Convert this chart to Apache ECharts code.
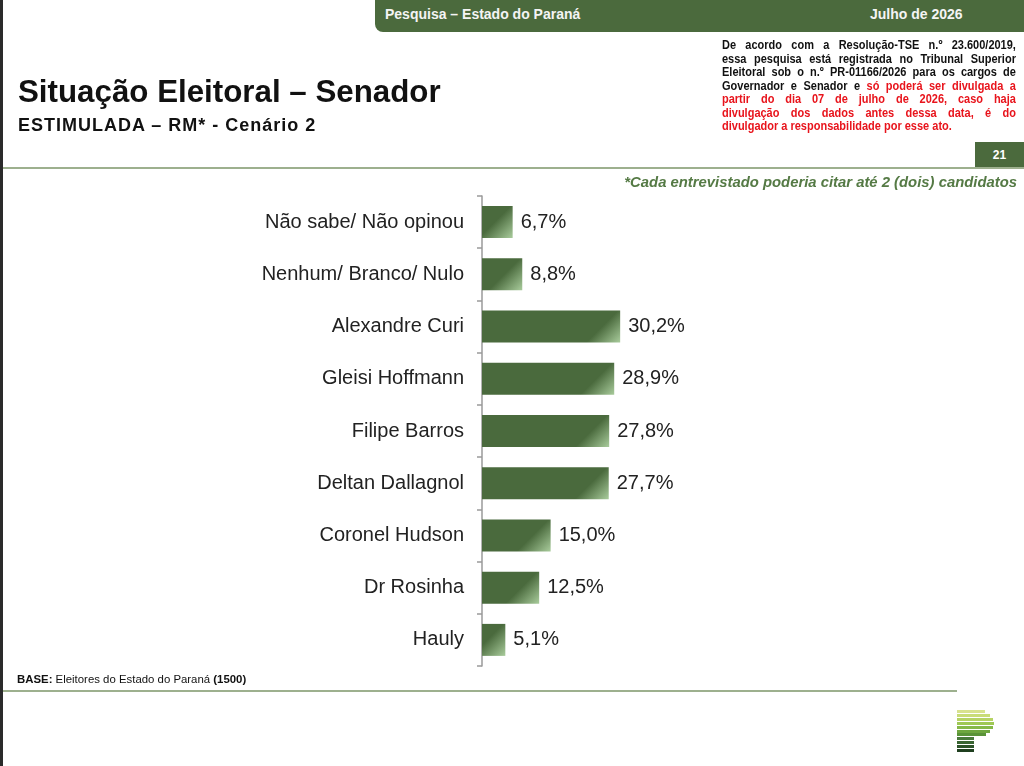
<!DOCTYPE html>
<html><head><meta charset="utf-8">
<script src="https://cdn.jsdelivr.net/npm/echarts@6/dist/echarts.min.js"></script>
<style>
html,body{margin:0;padding:0;background:#fff;}
body{width:1024px;height:766px;position:relative;overflow:hidden;font-family:"Liberation Sans",Arial,sans-serif;}
#chart{position:absolute;left:0;top:0;width:1024px;height:766px;}
.abs{position:absolute;}
#leftbar{left:0;top:0;width:3px;height:766px;background:#2a2a2a;}
#header{left:375px;top:0;width:649px;height:32px;background:#4b6a3d;border-bottom-left-radius:8px;color:#f4f4f4;font-weight:bold;font-size:14px;}
#header .l{position:absolute;left:10px;top:6px;}
#header .r{position:absolute;left:495px;top:6px;}
#disc{left:722px;top:39px;width:334px;transform:scaleX(0.88);transform-origin:0 0;font-weight:bold;font-size:12.5px;line-height:13.5px;color:#111;}
#disc div{text-align:justify;text-align-last:justify;white-space:nowrap;}
#disc div.last{text-align-last:left;}
#disc .red{color:#e8141c;}
#title{left:18px;top:74px;font-size:31.3px;font-weight:bold;color:#111;white-space:nowrap;}
#subtitle{left:18px;top:115px;font-size:18px;letter-spacing:1px;font-weight:bold;color:#111;white-space:nowrap;}
#pg{left:975px;top:142px;width:49px;height:26px;background:#4b6a3d;color:#fff;font-weight:bold;font-size:12px;text-align:center;line-height:26px;}
#hline{left:3px;top:167px;width:1021px;height:2px;background:#9db08e;}
#note{right:7px;top:174px;font-size:14.85px;font-weight:bold;font-style:italic;color:#557a45;white-space:nowrap;}
#base{left:17px;top:673px;font-size:11.4px;color:#111;white-space:nowrap;}
#bline{left:3px;top:690px;width:954px;height:2px;background:#9db08e;}
.st{position:absolute;left:957px;height:3px;}
</style></head>
<body>
<div id="chart"></div>
<div class="abs" id="leftbar"></div>
<div class="abs" id="header"><span class="l">Pesquisa – Estado do Paraná</span><span class="r">Julho de 2026</span></div>
<div class="abs" id="disc">
<div>De acordo com a Resolução-TSE n.º 23.600/2019,</div>
<div>essa pesquisa está registrada no Tribunal Superior</div>
<div>Eleitoral sob o n.º PR-01166/2026 para os cargos de</div>
<div>Governador e Senador e <span class="red">só poderá ser divulgada a</span></div>
<div class="red">partir do dia 07 de julho de 2026, caso haja</div>
<div class="red">divulgação dos dados antes dessa data, é do</div>
<div class="red last">divulgador a responsabilidade por esse ato.</div>
</div>
<div class="abs" id="title">Situação Eleitoral – Senador</div>
<div class="abs" id="subtitle">ESTIMULADA – RM* - Cenário 2</div>
<div class="abs" id="pg">21</div>
<div class="abs" id="hline"></div>
<div class="abs" id="note">*Cada entrevistado poderia citar até 2 (dois) candidatos</div>
<div class="abs" id="base"><b>BASE:</b> Eleitores do Estado do Paraná <b>(1500)</b></div>
<div class="abs" id="bline"></div>
<div id="logo"></div>
<script>
const categories = ['Não sabe/ Não opinou','Nenhum/ Branco/ Nulo','Alexandre Curi','Gleisi Hoffmann','Filipe Barros','Deltan Dallagnol','Coronel Hudson','Dr Rosinha','Hauly'];
const values = [6.7, 8.8, 30.2, 28.9, 27.8, 27.7, 15.0, 12.5, 5.1];

// logo stripes (decoration)
const logoW = [28,33,36,37,36,33,29,17,17,17,17];
const logoC = ['#d8e28e','#c9dc78','#b6d364','#9fc854','#86b948','#6ea63f','#5a9338','#4a7a3c','#3a6532','#2c5228','#1f3f1f'];
const logo = document.getElementById('logo');
logoW.forEach((w,i)=>{const d=document.createElement('div');d.className='st';d.style.top=(710+i*3.9)+'px';d.style.width=w+'px';d.style.background=logoC[i];logo.appendChild(d);});

const GRID_W = 183, X_MAX = 40, BAR_H = 32, SHINE = 34;
function barGradient(v){
  const w = Math.max(v * GRID_W / X_MAX, 1);
  const d = SHINE / 2;
  return new echarts.graphic.LinearGradient((w - d) / w, (BAR_H - d) / BAR_H, 1, 1, [
    {offset:0, color:'#4a6a3d'}, {offset:1, color:'#a9cc9c'}]);
}

const chart = echarts.init(document.getElementById('chart'), null, {renderer:'canvas'});
chart.setOption({
  animation:false,
  backgroundColor:'transparent',
  grid:{left:482, top:196, width:GRID_W, height:470, containLabel:false},
  xAxis:{type:'value', min:0, max:X_MAX, show:false},
  yAxis:{type:'category', data:categories, inverse:true,
    axisLine:{show:true, lineStyle:{color:'#9a9a9a', width:1.5}},
    axisTick:{show:true, length:5, lineStyle:{color:'#9a9a9a', width:1.5}},
    axisLabel:{margin:18, fontSize:20, color:'#222', fontFamily:'Liberation Sans, Arial, sans-serif'}
  },
  series:[{type:'bar', barWidth:BAR_H,
    data: values.map(v => ({value:v, itemStyle:{color:barGradient(v)}})),
    label:{show:true, position:'right', distance:8, fontSize:20, color:'#222', fontFamily:'Liberation Sans, Arial, sans-serif',
      formatter:p=>p.value.toFixed(1).replace('.',',')+'%'}
  }]
});
</script>
</body></html>
